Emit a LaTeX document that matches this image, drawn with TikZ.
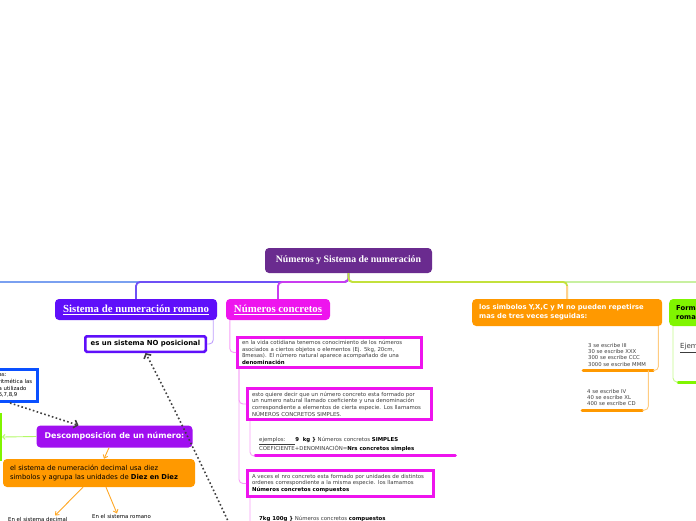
\documentclass[tikz,border=0pt]{standalone}
\usepackage{fontspec}
\setmainfont{DejaVu Sans}
\newfontfamily\serifttl{Liberation Serif}
\usetikzlibrary{arrows.meta}
\definecolor{RootPurple}{RGB}{106, 43, 143}
\definecolor{RomanBlue}{RGB}{95, 15, 250}
\definecolor{ConcMagenta}{RGB}{238, 20, 238}
\definecolor{RuleOrange}{RGB}{255, 153, 0}
\definecolor{FormGreen}{RGB}{128, 245, 0}
\definecolor{DescPurple}{RGB}{160, 15, 240}
\definecolor{DigitBlue}{RGB}{10, 80, 255}
\definecolor{TextGray}{RGB}{60, 60, 60}
\definecolor{FarBlue}{RGB}{122, 160, 240}
\definecolor{RomanLink}{RGB}{110, 80, 245}
\definecolor{ConcLink}{RGB}{200, 60, 240}
\definecolor{RuleLink}{RGB}{195, 225, 60}
\definecolor{FormLink}{RGB}{200, 240, 160}
\newcommand\smalltxt{\fontsize{5.4}{6.6}\selectfont}
\newcommand\itemtxt{\fontsize{5.3}{6.3}\selectfont}

\begin{document}
\begin{tikzpicture}[
        x=1pt, y=-1pt,
        % Topic Styles
        topic/.style={rectangle, rounded corners=4pt, inner sep=0pt, align=center},
        rootStyle/.style={topic, fill=RootPurple, text=white, minimum width=167pt, minimum height=25pt, font=\serifttl\bfseries\fontsize{9.8}{11}\selectfont},
        romanStyle/.style={topic, fill=RomanBlue, text=white, minimum width=162pt, minimum height=21pt, font=\serifttl\bfseries\fontsize{10.8}{12}\selectfont},
        concStyle/.style={topic, fill=ConcMagenta, text=white, minimum width=104pt, minimum height=21pt, font=\serifttl\bfseries\fontsize{10.8}{12}\selectfont},
        ruleStyle/.style={topic, fill=RuleOrange, text=white, align=left, text width=176pt, inner xsep=7pt, minimum height=27pt, font=\bfseries\fontsize{6.8}{9}\selectfont},
        formStyle/.style={topic, fill=FormGreen, text=black, align=left, text width=110pt, inner xsep=7pt, minimum height=27pt, font=\bfseries\fontsize{6.8}{9}\selectfont},
        descStyle/.style={topic, fill=DescPurple, text=white, minimum width=156pt, minimum height=22pt, font=\bfseries\fontsize{7.9}{9}\selectfont},
        decStyle/.style={topic, fill=RuleOrange, text=black, align=left, text width=178pt, inner xsep=7pt, minimum height=28pt, font=\fontsize{6.8}{8.8}\selectfont},
        % Boxed Notes
        note/.style={rectangle, fill=white, line width=3pt, align=left, inner xsep=4.5pt, inner ysep=1pt, text=TextGray, font=\smalltxt},
        concNote/.style={note, draw=ConcMagenta},
        nosisStyle/.style={note, draw=RomanBlue, line width=2.5pt, rounded corners=1.5pt, text=black, align=center, minimum width=120.5pt, minimum height=15.5pt, font=\bfseries\fontsize{6.9}{8}\selectfont},
        digitStyle/.style={note, draw=DigitBlue, text=black, inner xsep=3pt, text width=36pt, minimum height=32pt},
        sideGreen/.style={rectangle, draw=FormGreen, line width=3pt, fill=white, minimum width=40pt, minimum height=45pt},
        % Plain Items
        item/.style={inner sep=0pt, align=left, text=TextGray, font=\smalltxt},
        % Lines
        mainLink/.style={line width=1.8pt, rounded corners=4pt},
        subLink/.style={line width=0.9pt, rounded corners=4pt},
        bar/.style={line width=3pt, line cap=round},
        refFlow/.style={-{Straight Barb[length=3.5pt, width=8pt]}, line width=1.6pt, dash pattern=on 1.6pt off 2.4pt, draw=black!75},
        decFlow/.style={-{Straight Barb[length=3pt, width=5pt]}, line width=0.9pt, draw=RuleOrange!85}
    ]
    \useasboundingbox[fill=white] (0,0) rectangle (696,520);

    % --- TOPICS ---
    \node[rootStyle]  (root)  at (348.5, 260.5) {Números y Sistema de numeración};
    \node[romanStyle] (roman) at (136, 309.5) {\underline{Sistema de numeración romano}};
    \node[concStyle]  (conc)  at (278, 309.5) {\underline{Números concretos}};
    \node[ruleStyle, anchor=west] (rule) at (472, 312.5) {los simbolos Y,X,C y M no pueden repetirse\\mas de tres veces seguidas:};
    \node[formStyle, anchor=west] (form) at (669, 312.5) {Formación de números\\romanos};

    % --- MAIN CONNECTORS ---
    \coordinate (hub) at (348.5, 282);
    \coordinate (offleft) at (-30, 300);
    \draw[mainLink, FarBlue]   (root.south) -- (hub) -| (offleft);
    \draw[mainLink, RomanLink] (root.south) -- (hub) -| (roman.north);
    \draw[mainLink, ConcLink]  (root.south) -- (hub) -| (conc.north);
    \draw[mainLink, FormLink]  (root.south) -- (hub) -| (form.north);
    \draw[mainLink, RuleLink]  (root.south) -- (hub) -| (rule.north);
    \draw[mainLink, RuleOrange!45] ([yshift=13pt]rule.north) -- (rule.north);

    % --- ROMANO ---
    \node[nosisStyle] (nosis) at (145.5, 344) {es un sistema NO posicional};
    \draw[subLink, RomanBlue!40] ([xshift=-4pt]roman.south east) |- (nosis.east);

    % --- NUMEROS CONCRETOS ---
    \node[concNote, anchor=north west, text width=175pt, minimum height=30pt] (cotid) at (236, 336)
        {en la vida cotidiana tenemos conocimiento de los números\\asociados a ciertos objetos o elementos (Ej. 5kg, 20cm,\\8mesas). El número natural aparece acompañado de una\\\textcolor{black}{\textbf{denominación}}};
    \node[concNote, anchor=north west, text width=175pt, minimum height=31pt] (simp) at (246, 387)
        {esto quiere decir que un número concreto esta formado por\\un numero natural llamado coeficiente y una denominación\\correspondiente a elementos de cierta especie. Los llamamos\\NÚMEROS CONCRETOS SIMPLES.};
    \node[concNote, anchor=north west, text width=177pt, minimum height=26pt] (comp) at (246, 469)
        {\mbox{A veces el nro concreto esta formado por unidades de distintos}\\ordenes correspondiente a la misma especie. los llamamos\\\textcolor{black}{\textbf{Números concretos compuestos}}};
    \node[item, anchor=north west, text width=196pt] (ejem) at (259, 437)
        {\underline{ejemplos:\hspace{10pt}}\textcolor{black}{\textbf{9\ \ kg \}}} Números concretos \textcolor{black}{\textbf{SIMPLES}}\\COEFICIENTE+DENOMINACIÓN=\textcolor{black}{\textbf{Nrs concretos simples}}};
    \node[item, anchor=north west] (compi) at (259, 516)
        {\textcolor{black}{\textbf{7kg 100g \}}} Números concretos \textcolor{black}{\textbf{compuestos}}};

    \coordinate (ejemL) at ([xshift=-4pt, yshift=-4pt]ejem.south west);
    \coordinate (ejemR) at ([yshift=-4pt]ejem.south east);
    \coordinate (compL) at ([xshift=-4pt, yshift=-4pt]compi.south west);
    \draw[bar, ConcMagenta] (ejemL) -- (ejemR);
    \draw[subLink, ConcMagenta!40] ([xshift=4pt]conc.south west) |- (cotid.west);
    \draw[subLink, ConcMagenta!40] ([xshift=3pt]cotid.south west) |- (simp.west);
    \draw[subLink, ConcMagenta!40] ([xshift=3pt]cotid.south west) |- (comp.west);
    \draw[subLink, ConcMagenta!40] ([xshift=4pt]simp.south west) |- (ejemL);
    \draw[subLink, ConcMagenta!40] ([xshift=4pt]comp.south west) |- (compL);

    % --- SIMBOLOS REPETIDOS ---
    \node[item, anchor=north west, text width=65pt, font=\itemtxt] (tri) at (588, 343)
        {3 se escribe III\\30 se escribe XXX\\300 se escribe CCC\\3000 se escribe MMM};
    \node[item, anchor=north west, text width=55pt, font=\itemtxt] (cua) at (587, 389)
        {4 se escribe IV\\40 se escribe XL\\400 se escribe CD};
    \coordinate (triL) at ([xshift=-5pt, yshift=-4pt]tri.south west);
    \coordinate (triR) at ([yshift=-4pt]tri.south east);
    \coordinate (cuaL) at ([xshift=-5pt, yshift=-4pt]cua.south west);
    \coordinate (cuaR) at ([yshift=-4pt]cua.south east);
    \draw[bar, RuleOrange] (triL) -- (triR);
    \draw[bar, RuleOrange] (cuaL) -- (cuaR);
    \draw[subLink, RuleOrange!50] ([xshift=-4pt]rule.south east) |- (triR);
    \draw[subLink, RuleOrange!50] ([xshift=-5pt]triR) |- (cuaR);

    % --- FORMACION ---
    \node[item, anchor=west, font=\fontsize{7}{8}\selectfont] (ejrom) at (680, 348) {\underline{Ejemplos:}};
    \coordinate (ejromL) at ([xshift=-2pt, yshift=-34pt]ejrom.west);
    \draw[bar, FormGreen] (ejromL) -- ++(40, 0);
    \draw[subLink, FormGreen!45] ([xshift=4pt]form.south west) |- (ejromL);

    % --- DESCOMPOSICION ---
    \node[digitStyle, anchor=north east] (digits) at (39, 368) {as:\\ritmética las\\a utilizado\\6,7,8,9};
    \node[sideGreen, anchor=east] (side) at (2, 437) {};
    \node[descStyle] (desc) at (114.5, 436.5) {Descomposición de un número:};
    \node[decStyle] (decimal) at (99, 473) {el sistema de numeración decimal usa diez\\simbolos y agrupa las unidades de \textbf{Diez en Diez}};
    \node[item, anchor=north west, text=black] (decLbl) at (8, 517.5) {En el sistema decimal};
    \node[item, anchor=north west, text=black] (romLbl) at (92, 514.5) {En el sistema romano};

    \draw[-{Straight Barb[length=2.5pt, width=5pt]}, line width=0.9pt, FormGreen!60] (desc.west) -- (side.east);
    \draw[decFlow] ([xshift=-5.5pt]desc.south) -- ([xshift=5pt]decimal.north);
    \draw[decFlow] ([xshift=-16pt]decimal.south) -- ([xshift=47pt, yshift=2pt]decLbl.north west);
    \draw[decFlow] ([xshift=7pt]decimal.south) -- ([xshift=25pt, yshift=1pt]romLbl.north west);

    % --- DOTTED REFERENCES ---
    \coordinate (belowNosis) at (246, 560);
    \draw[refFlow] (belowNosis) .. controls (205, 470) and (160, 380) .. (nosis.south);
    \draw[refFlow] ([xshift=-29pt]digits.south east) -- ([xshift=-36pt]desc.north);

\end{tikzpicture}
\end{document}
